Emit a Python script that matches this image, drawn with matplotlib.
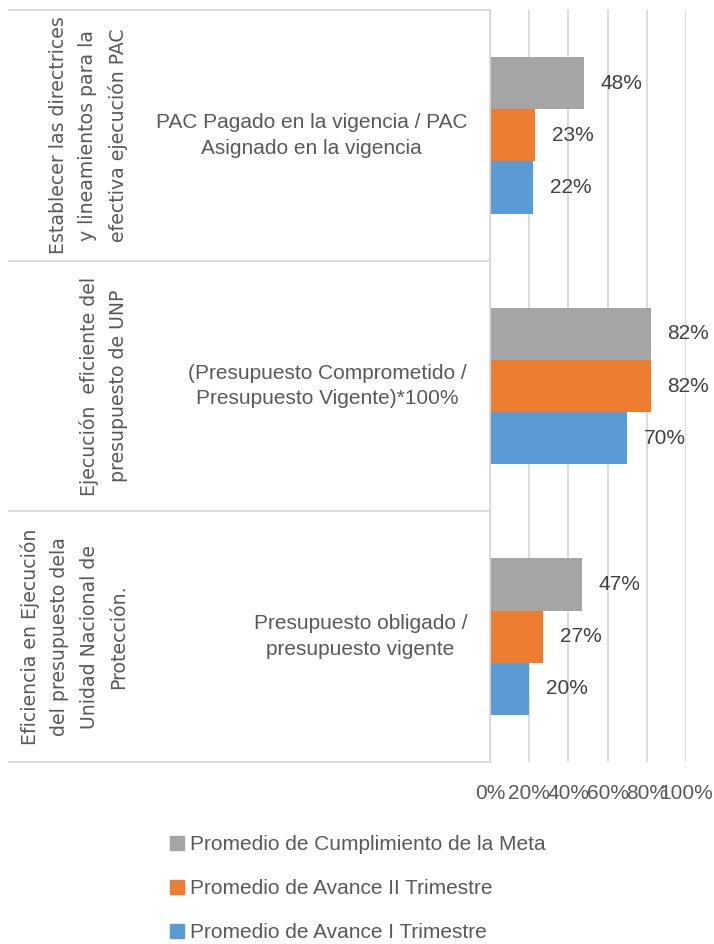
import numpy as np
import matplotlib.pyplot as plt
from matplotlib.patches import Patch
from matplotlib.lines import Line2D
from matplotlib.ticker import PercentFormatter
from matplotlib.transforms import blended_transform_factory

# grupos (nivel externo) e indicadores (nivel interno)
grupos = ['Establecer las directrices\ny lineamientos para la\nefectiva ejecución PAC',
          'Ejecución  eficiente del\npresupuesto de UNP',
          'Eficiencia en Ejecución\ndel presupuesto dela\nUnidad Nacional de\nProtección.']
indicadores = ['PAC Pagado en la vigencia / PAC\nAsignado en la vigencia',
               '(Presupuesto Comprometido /\nPresupuesto Vigente)*100%',
               'Presupuesto obligado /\npresupuesto vigente']
series = ['Promedio de Cumplimiento de la Meta',
          'Promedio de Avance II Trimestre',
          'Promedio de Avance I Trimestre']
cumplimiento = [0.48, 0.82, 0.47]
avance_ii = [0.23, 0.82, 0.27]
avance_i = [0.22, 0.70, 0.20]
colores = ['#A5A5A5', '#ED7D31', '#5B9BD5']

plt.rcParams['font.family'] = 'Liberation Sans'
gris_txt = '#595959'
gris_lin = '#D9D9D9'

fig = plt.figure(figsize=(7.14, 9.44), dpi=100)
ax = fig.add_axes([490/714, 1-762/944, 196/714, 752/944])

y = np.arange(len(indicadores)) + 0.5
h = 0.208
for k, (vals, col) in enumerate(zip([cumplimiento, avance_ii, avance_i], colores)):
    pos = y + (k - 1)*h
    ax.barh(pos, vals, height=h, color=col, zorder=2)
    for p, v in zip(pos, vals):
        ax.annotate(f'{v:.0%}', (v, p), xytext=(12, 0), textcoords='offset points',
                    va='center', ha='left', fontsize=15, color='#404040',
                    annotation_clip=False)

ax.set_xlim(0, 1)
ax.set_ylim(3, 0)
ax.set_xticks(np.arange(0, 1.01, 0.2))
ax.xaxis.set_major_formatter(PercentFormatter(1, decimals=0))
ax.set_yticks([])
ax.grid(axis='x', color=gris_lin, lw=1.3)
ax.set_axisbelow(True)
for s in ['top', 'right', 'bottom']:
    ax.spines[s].set_visible(False)
ax.spines['left'].set_color(gris_lin)
ax.spines['left'].set_linewidth(1.3)
ax.tick_params(length=0, labelsize=15, labelcolor=gris_txt, pad=15.5)

# etiquetas de categoria en dos niveles
trans = blended_transform_factory(fig.transFigure, ax.transData)
for yb in range(len(indicadores) + 1):
    fig.add_artist(Line2D([9/714, 490/714], [yb, yb], transform=trans,
                          color=gris_lin, lw=1.3))
for yc, g, ind in zip(y, grupos, indicadores):
    ax.text(128/714, yc, g, transform=trans, rotation=90, ha='right', va='center',
            multialignment='center', fontsize=13.6, family='DejaVu Sans',
            linespacing=1.69, color=gris_txt)
    ax.text(467/714, yc, ind, transform=trans, ha='right', va='center',
            multialignment='center', fontsize=15, color=gris_txt,
            linespacing=1.46)

fig.legend(handles=[Patch(color=c) for c in colores], labels=series,
           loc='upper left', bbox_to_anchor=(170/714, 1-835/944), frameon=False,
           handlelength=0.65, handleheight=0.65, handletextpad=0.3,
           labelspacing=1.2, fontsize=15, labelcolor=gris_txt,
           borderaxespad=0, borderpad=0)

fig.savefig('out.png', dpi=100)
